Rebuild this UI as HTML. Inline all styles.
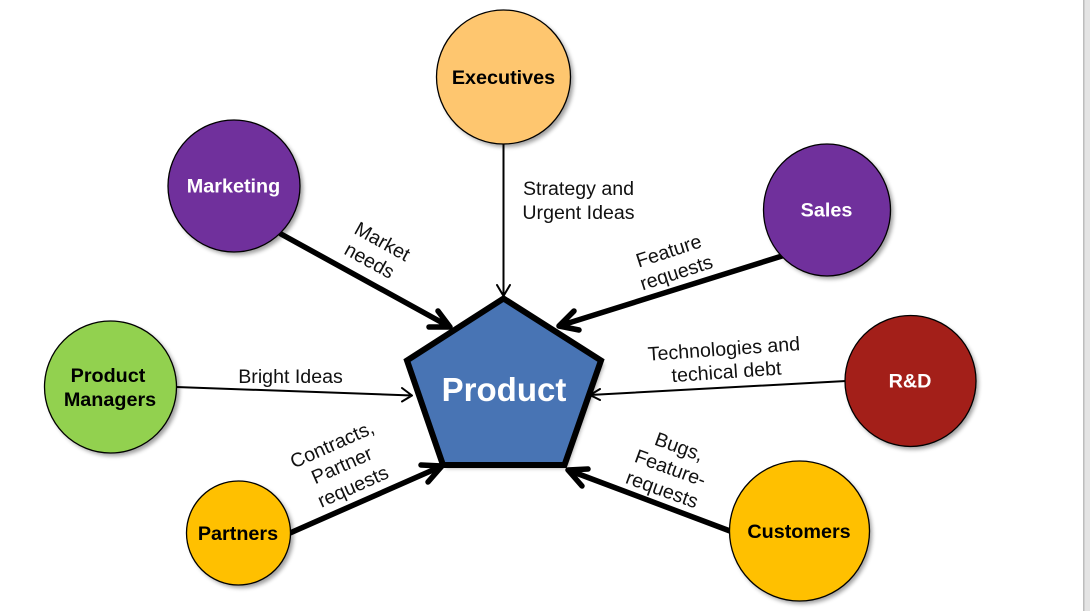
<!DOCTYPE html>
<html><head><meta charset="utf-8"><style>
html,body{margin:0;padding:0;background:#fff;width:1090px;height:611px;overflow:hidden}
svg{display:block}
text{font-family:"Liberation Sans",Arial,sans-serif}
.b{font-weight:bold;font-size:19.800px;text-anchor:middle}
.l{font-size:19.600px;text-anchor:middle;fill:#111}
.c{stroke:#000;stroke-width:1.300}
.thin{stroke:#000;stroke-width:2;fill:none;stroke-linecap:round;stroke-linejoin:round}
.thick{stroke:#000;stroke-width:5.500;fill:none;stroke-linecap:round;stroke-linejoin:round}
</style></head><body>
<svg width="1090" height="611" viewBox="0 0 1090 611" xmlns="http://www.w3.org/2000/svg">
<defs><filter id="s" x="-20%" y="-20%" width="140%" height="140%"><feGaussianBlur stdDeviation="2.2"/></filter></defs>
<rect x="1083" y="0" width="7" height="611" fill="#e4e4e4"/>
<rect x="1083" y="0" width="1.500" height="611" fill="#bdbdbd"/>

<g fill="#000" opacity=".38" filter="url(#s)">
<circle cx="506.500" cy="80" r="67"/><circle cx="237" cy="189" r="66"/>
<ellipse cx="830" cy="213" rx="63.500" ry="66"/><circle cx="913" cy="384" r="65.500"/>
<circle cx="113.500" cy="390" r="66"/><circle cx="241.500" cy="536" r="52"/>
<circle cx="802" cy="534" r="70"/>
<polygon points="506.500,303 604,364 567,468 446,468 411,364"/>
</g>

<!-- connectors -->
<path class="thin" d="M503.500 144V296M497 285l6.500 11 6.500-11"/>
<path class="thin" d="M176 387L412 395.500M402 388l10 7.500-10 6"/>
<path class="thin" d="M846 381L590 395M600 389l-10 6 10 5"/>
<path class="thick" d="M281 234L450 327M438 311l12 16-21 0"/>
<path class="thick" d="M782 256L559 326M574 311l-15 15 20 4"/>
<path class="thick" d="M290 533L442 466M421 465l21 1-14 16"/>
<path class="thick" d="M730 531L568 470M588 469l-20 1 14 16"/>

<!-- pentagon -->
<polygon points="503.500,298.500 601,360.500 564.500,465 443,465 407,360.500" fill="#4874b4" stroke="#000" stroke-width="6" stroke-linejoin="miter"/>
<text x="504" y="401" font-size="33" font-weight="bold" text-anchor="middle" fill="#fff">Product</text>

<!-- circles -->
<circle class="c" cx="503.500" cy="77" r="67" fill="#fec66f"/>
<circle class="c" cx="234" cy="186" r="66" fill="#70309c"/>
<ellipse class="c" cx="827" cy="210" rx="63.500" ry="66" fill="#70309c"/>
<circle class="c" cx="910.500" cy="381" r="65.500" fill="#a31f19"/>
<circle class="c" cx="110.500" cy="387" r="66" fill="#92d14f"/>
<circle class="c" cx="238.500" cy="533" r="52" fill="#ffc000"/>
<circle class="c" cx="799.500" cy="531" r="70" fill="#ffc000"/>

<text class="b" x="503.500" y="84">Executives</text>
<text class="b" x="233.500" y="192.500" fill="#fff">Marketing</text>
<text class="b" x="826.500" y="216.500" fill="#fff">Sales</text>
<text class="b" x="910" y="387.500" fill="#fff">R&amp;D</text>
<text class="b" x="108" y="382">Product</text>
<text class="b" x="110" y="406">Managers</text>
<text class="b" x="238" y="540">Partners</text>
<text class="b" x="799" y="538">Customers</text>

<!-- labels -->
<text class="l" x="578.500" y="195">Strategy and</text>
<text class="l" x="578.500" y="219">Urgent Ideas</text>
<text class="l" x="290.500" y="383">Bright Ideas</text>
<g transform="rotate(29 376 250)"><text class="l" x="377.500" y="246">Market</text><text class="l" x="375.500" y="269">needs</text></g>
<g transform="rotate(-18 675 259)"><text class="l" x="671.500" y="256">Feature</text><text class="l" x="672" y="279">requests</text></g>
<g transform="rotate(-4 724 358)"><text class="l" x="724.500" y="355.500">Technologies and</text><text class="l" x="725.500" y="378.500">techical debt</text></g>
<g transform="rotate(-24 339 465)"><text class="l" x="341" y="450">Contracts,</text><text class="l" x="341.500" y="473">Partner</text><text class="l" x="343" y="497">requests</text></g>
<g transform="rotate(20 666 467)"><text class="l" x="671.500" y="450">Bugs,</text><text class="l" x="670.500" y="473">Feature-</text><text class="l" x="670" y="496">requests</text></g>
</svg>
</body></html>
